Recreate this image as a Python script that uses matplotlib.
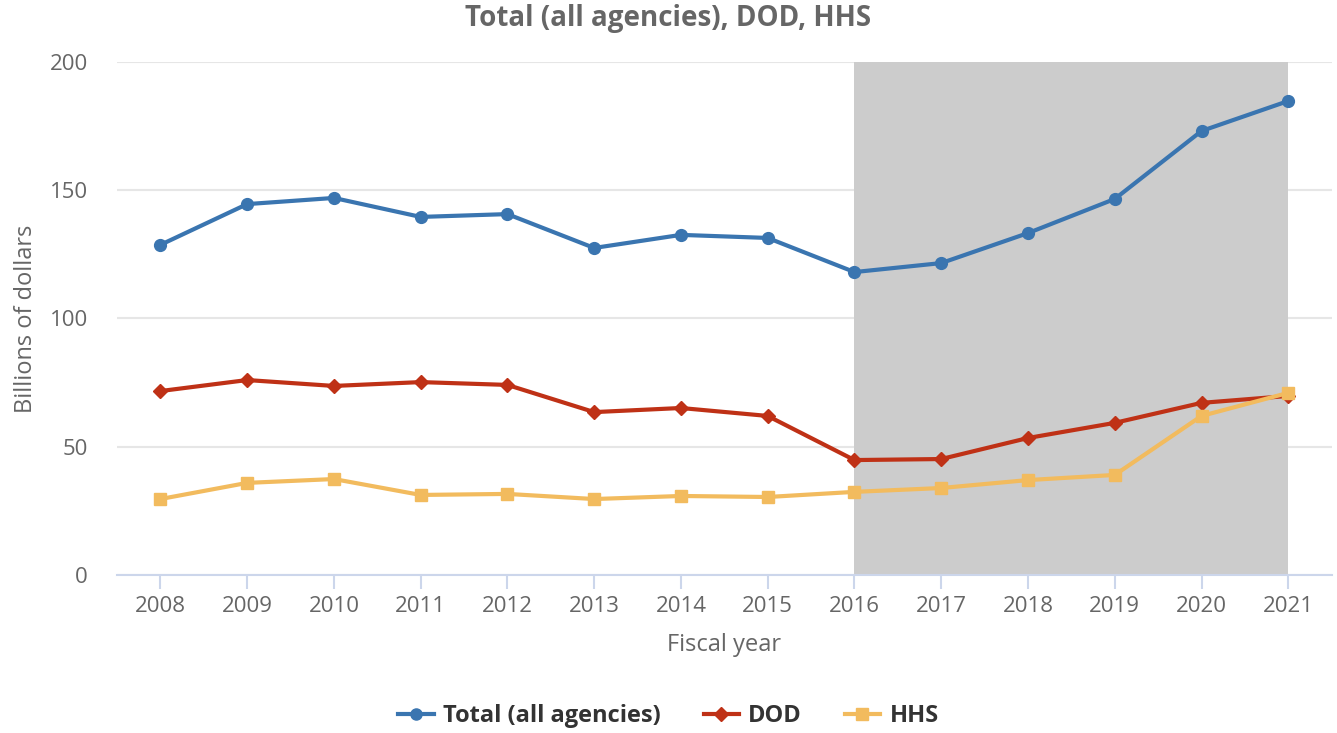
import matplotlib.pyplot as plt
from matplotlib.lines import Line2D

plt.rcParams['font.family'] = ['Open Sans', 'DejaVu Sans']

years = ['2008', '2009', '2010', '2011', '2012', '2013', '2014',
         '2015', '2016', '2017', '2018', '2019', '2020', '2021']
total = [128.7, 144.6, 147.0, 139.6, 140.7, 127.5, 132.6,
         131.4, 118.1, 121.6, 133.3, 146.6, 173.1, 184.8]
dod = [71.7, 76.0, 73.7, 75.2, 74.1, 63.5, 65.1,
       62.0, 44.8, 45.2, 53.4, 59.3, 67.1, 69.8]
hhs = [29.6, 35.9, 37.4, 31.2, 31.6, 29.6, 30.8,
       30.4, 32.4, 33.9, 37.0, 39.0, 62.0, 71.0]

fig = plt.figure(figsize=(13.37, 7.33), dpi=100)
ax = fig.add_axes([0.0875, 0.2156, 0.9085, 0.6998])

x = list(range(len(years)))
ax.axvspan(years.index('2016'), years.index('2021'), color='#cccccc', zorder=1, lw=0)

ax.plot(x, total, color='#3a75b0', lw=3, marker='o', ms=8.5, zorder=4,
        label='Total (all agencies)')
ax.plot(x, dod, color='#bf3116', lw=3, marker='D', ms=7, zorder=4, label='DOD')
ax.plot(x, hhs, color='#f2bb5e', lw=3, marker='s', ms=8, zorder=4, label='HHS')

ax.set_xlim(-0.5, len(years) - 0.5)
ax.set_ylim(0, 200)
ax.set_yticks([0, 50, 100, 150, 200])
ax.set_xticks(x)
ax.set_xticklabels(years)
ax.grid(axis='y', color='#e6e6e6', lw=1.5, zorder=0)
ax.set_axisbelow(True)

for s in ['top', 'right', 'left']:
    ax.spines[s].set_visible(False)
ax.spines['bottom'].set_color('#ccd6eb')
ax.spines['bottom'].set_linewidth(1.5)
ax.spines['bottom'].set_zorder(5)

ax.tick_params(axis='x', colors='#ccd6eb', length=10, width=1.5, labelcolor='#666666',
               labelsize=16, pad=5)
ax.tick_params(axis='y', length=0, labelcolor='#666666', labelsize=16, pad=21)

ax.set_xlabel('Fiscal year', fontsize=17, color='#666666', labelpad=12)
ax.set_ylabel('Billions of dollars', fontsize=17, color='#666666', labelpad=8)
fig.text(0.5, 0.975, 'Total (all agencies), DOD, HHS', fontsize=20, fontweight='bold',
         color='#666666', ha='center', va='center')

handles = [
    Line2D([], [], color='#3a75b0', lw=3, marker='o', ms=8),
    Line2D([], [], color='#bf3116', lw=3, marker='D', ms=7),
    Line2D([], [], color='#f2bb5e', lw=3, marker='s', ms=8),
]
leg = fig.legend(handles, ['Total (all agencies)', 'DOD', 'HHS'], loc='center',
                 bbox_to_anchor=(0.5, 0.023), ncol=3, frameon=False,
                 prop={'size': 17, 'weight': 'bold'}, handlelength=1.5,
                 columnspacing=1.8, handletextpad=0.4)
for t in leg.get_texts():
    t.set_color('#333333')

fig.savefig('out.png', dpi=100)
